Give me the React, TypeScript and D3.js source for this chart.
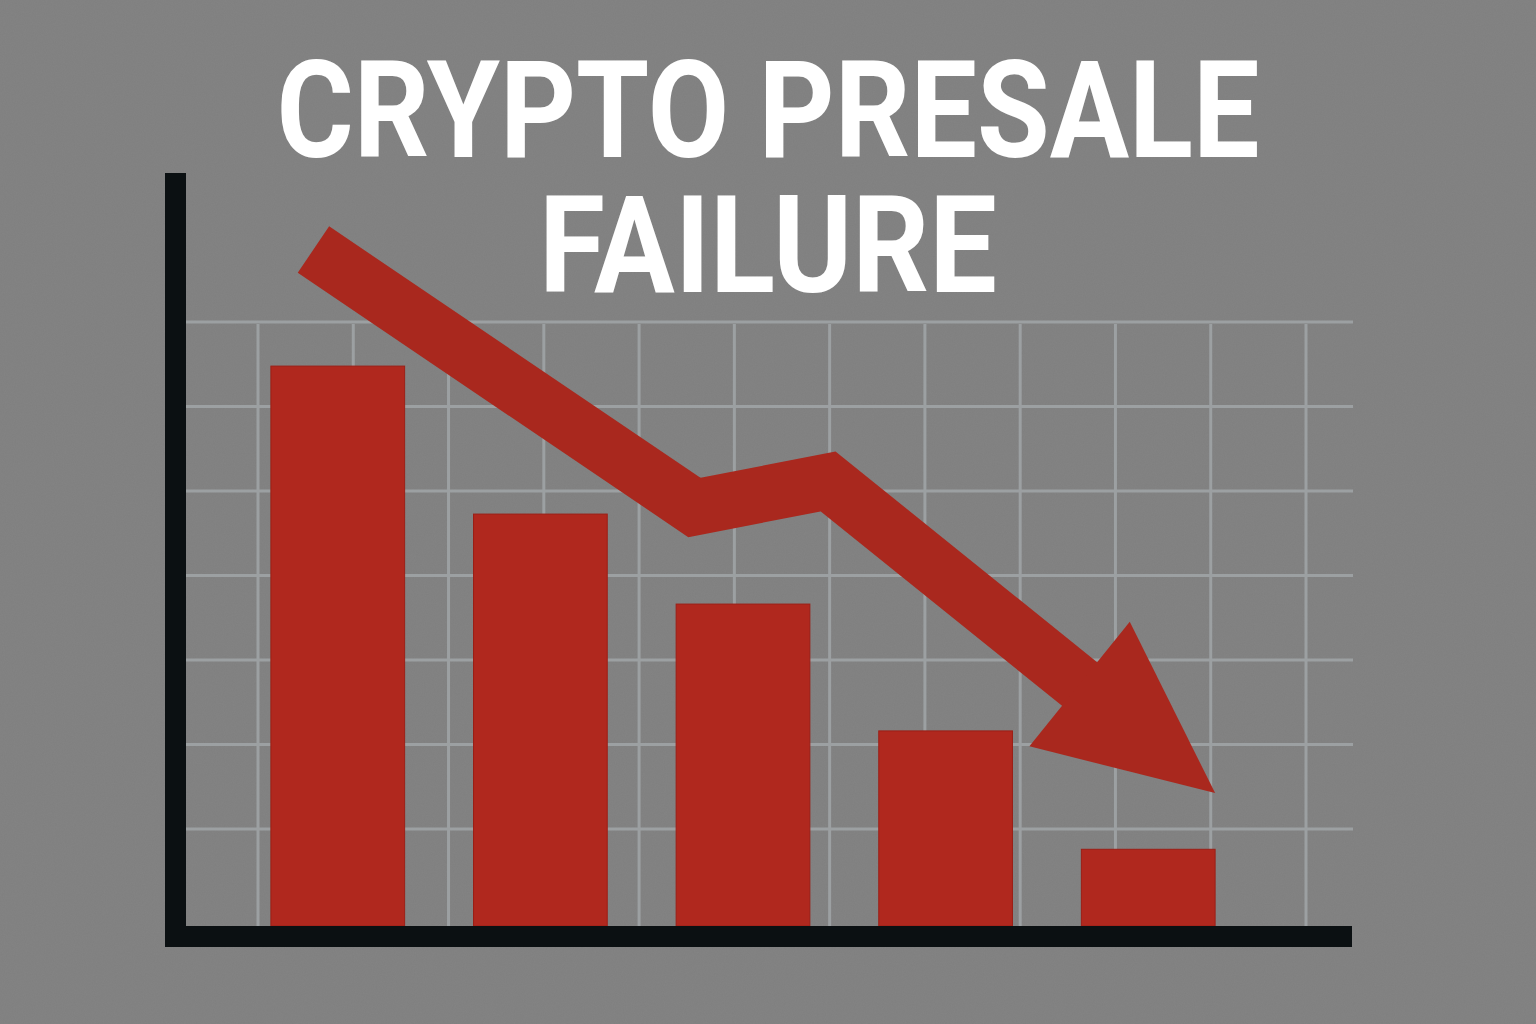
import { useEffect, useRef } from 'react'
import * as d3 from 'd3'

// Bars (arbitrary units, baseline 0 .. top of grid 100)
const stages = ['Stage 1', 'Stage 2', 'Stage 3', 'Stage 4', 'Stage 5']
const raised = [92.7, 68.2, 53.3, 32.3, 12.7]

// Trend arrow: position in bar-index units, value in same units as bars
const trendX = [-0.12, 1.76, 2.42, 4.33]
const trendY = [112, 69.3, 73.6, 22]

const titleLines = ['CRYPTO PRESALE', 'FAILURE']

export default function App() {
  const svgRef = useRef<SVGSVGElement>(null)
  const width = 1536
  const height = 1024

  useEffect(() => {
    document.body.style.margin = '0'
    if (!svgRef.current) return
    const svg = d3.select(svgRef.current)
    svg.selectAll('*').remove()

    const plot = { left: 186, right: 1353, top: 322, bottom: 926 }

    const xBand = d3.scaleBand<string>()
      .domain(stages)
      .range([202, 1284])
      .padding(0.34)

    const yScale = d3.scaleLinear()
      .domain([0, 100])
      .range([plot.bottom, plot.top])

    // continuous x in bar-index units, centred on bars
    const xIdx = d3.scaleLinear()
      .domain([0, stages.length - 1])
      .range([
        (xBand(stages[0]) || 0) + xBand.bandwidth() / 2,
        (xBand(stages[stages.length - 1]) || 0) + xBand.bandwidth() / 2
      ])

    // grid scales
    const gridX = d3.scaleLinear().domain([0, 11]).range([258, 1306])
    const gridY = d3.scaleLinear().domain([0, 6]).range([829, 322])

    // background with a faint grain
    const defs = svg.append('defs')
    const filter = defs.append('filter').attr('id', 'grain')
    filter.append('feTurbulence')
      .attr('type', 'fractalNoise')
      .attr('baseFrequency', 0.9)
      .attr('numOctaves', 2)
      .attr('result', 'noise')
    filter.append('feColorMatrix')
      .attr('type', 'matrix')
      .attr('values', '0 0 0 0 0.5  0 0 0 0 0.5  0 0 0 0 0.5  0 0 0 0.08 0')

    svg.append('rect')
      .attr('width', width).attr('height', height)
      .attr('fill', '#7f7f7f')
    svg.append('rect')
      .attr('width', width).attr('height', height)
      .attr('filter', 'url(#grain)')

    // grid
    const grid = svg.append('g')
      .attr('stroke', '#9ca0a2')
      .attr('stroke-width', 3)
    grid.selectAll('line.h')
      .data(d3.range(0, 7))
      .enter().append('line')
      .attr('class', 'h')
      .attr('x1', plot.left).attr('x2', plot.right)
      .attr('y1', d => gridY(d)).attr('y2', d => gridY(d))
    grid.selectAll('line.v')
      .data(d3.range(0, 12))
      .enter().append('line')
      .attr('class', 'v')
      .attr('x1', d => gridX(d)).attr('x2', d => gridX(d))
      .attr('y1', plot.top + 2).attr('y2', plot.bottom)

    // bars
    svg.append('g')
      .selectAll('rect')
      .data(raised)
      .enter().append('rect')
      .attr('x', (_, i) => xBand(stages[i]) || 0)
      .attr('y', d => yScale(d))
      .attr('width', xBand.bandwidth())
      .attr('height', d => plot.bottom - yScale(d))
      .attr('fill', '#b0281e')
      .attr('stroke', '#9c1f16')
      .attr('stroke-width', 1)

    // trend arrow
    const pts: [number, number][] = trendX.map((x, i) => [xIdx(x), yScale(trendY[i])])
    const tip = pts[pts.length - 1]
    const prev = pts[pts.length - 2]
    const len = Math.hypot(tip[0] - prev[0], tip[1] - prev[1])
    const ux = (tip[0] - prev[0]) / len
    const uy = (tip[1] - prev[1]) / len
    const headLen = 174
    const headHalf = 80
    const base: [number, number] = [tip[0] - ux * headLen, tip[1] - uy * headLen]
    const shaft = [...pts.slice(0, -1), [base[0] + ux * 2, base[1] + uy * 2] as [number, number]]

    const arrow = svg.append('g')
    arrow.append('path')
      .attr('d', d3.line()(shaft))
      .attr('fill', 'none')
      .attr('stroke', '#a9281e')
      .attr('stroke-width', 56)
      .attr('stroke-linejoin', 'miter')
      .attr('stroke-miterlimit', 10)
      .attr('stroke-linecap', 'butt')
    arrow.append('path')
      .attr('d', d3.line()([
        [base[0] - uy * headHalf, base[1] + ux * headHalf],
        tip,
        [base[0] + uy * headHalf, base[1] - ux * headHalf]
      ]) + 'Z')
      .attr('fill', '#a9281e')

    // axes
    svg.append('rect')
      .attr('x', 165).attr('y', 173)
      .attr('width', 21).attr('height', 773)
      .attr('fill', '#0b1012')
    svg.append('rect')
      .attr('x', 165).attr('y', plot.bottom)
      .attr('width', 1352 - 165).attr('height', 21)
      .attr('fill', '#0b1012')

    // title: one text, a tspan per line, condensed to the narrow headline face
    const lineWidths = [983, 458]
    svg.append('text')
      .style('font-family', 'Roboto, "Noto Sans", sans-serif')
      .style('font-weight', 'bold')
      .style('font-size', '136px')
      .style('fill', '#ffffff')
      .selectAll('tspan')
      .data(titleLines)
      .enter().append('tspan')
      .attr('x', (_, i) => 768 - lineWidths[i] / 2)
      .attr('y', (_, i) => 157 + i * 135)
      .attr('textLength', (_, i) => lineWidths[i])
      .attr('lengthAdjust', 'spacingAndGlyphs')
      .text(d => d)
  }, [])

  return (
    <svg ref={svgRef} width={width} height={height} style={{ display: 'block' }} />
  )
}
